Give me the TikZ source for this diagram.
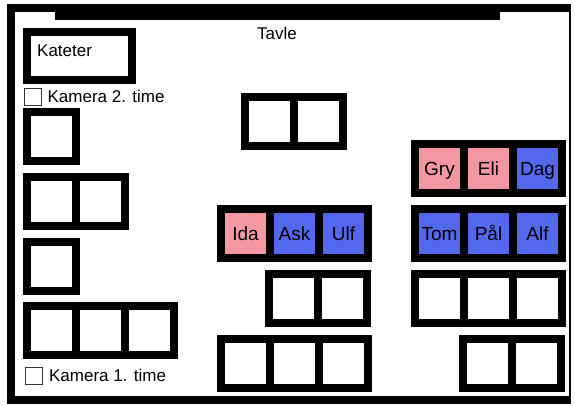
\documentclass[tikz,border=0pt]{standalone}
\usepackage{fontspec}
\setmainfont{Liberation Sans}
\usetikzlibrary{positioning}
\definecolor{girlpink}{RGB}{243,152,163}
\definecolor{boyblue}{RGB}{84,104,238}
\begin{document}
\begin{tikzpicture}[
    x=1pt, y=-1pt,
    desk/.style={draw, line width=8pt, minimum width=49pt, minimum height=49pt,
                 inner sep=0pt, outer sep=0pt, font=\fontsize{19}{22}\selectfont,
                 text height=13.6pt, text depth=0pt},
    girl/.style={desk, fill=girlpink},
    boy/.style={desk, fill=boyblue},
    checkbox/.style={draw=black!80, line width=0.9pt, minimum size=17pt, inner sep=0pt},
    camlabel/.style={inner sep=0pt, label distance=6pt, font=\fontsize{17}{20}\selectfont},
    plain/.style={inner sep=0pt, font=\fontsize{17}{20}\selectfont},
    node distance=0pt,
]
\useasboundingbox (0,0) rectangle (575,405);
\draw[line width=8pt] (570,8) -- (11,8) -- (11,400) -- (570,400);
\draw[line width=2pt] (570,4) -- (570,404);
\fill (55,4) rectangle (500,20);
\node[plain] (tavle) at (277,33.5) {Tavle};
\node[draw, line width=8pt, minimum width=105pt, minimum height=48pt] (kateter) at (79.5,56) {};
\node[plain, anchor=west] (katetertext) at (37,51) {Kateter};
\node[checkbox, label={[camlabel]right:Kamera 2. time}] (cam2) at (32.5,96.5) {};
\node[checkbox, label={[camlabel]right:Kamera 1. time}] (cam1) at (34,375.5) {};
% left wall
\node[desk] (la) at (51.5,136.5) {};
\node[desk] (lb1) at (51.5,201.5) {};
\node[desk, right=of lb1] (lb2) {};
\node[desk] (lc) at (51.5,266.5) {};
\node[desk] (ld1) at (51.5,330.5) {};
\node[desk, right=of ld1] (ld2) {};
\node[desk, right=of ld2] (ld3) {};
% middle
\node[desk] (ma1) at (269.5,121.5) {};
\node[desk, right=of ma1] (ma2) {};
\node[girl] (ida) at (245.5,233.5) {Ida};
\node[boy, right=of ida] (ask) {Ask};
\node[boy, right=of ask] (ulf) {Ulf};
\node[desk] (mc1) at (293.5,298.5) {};
\node[desk, right=of mc1] (mc2) {};
\node[desk] (md1) at (245.5,363.5) {};
\node[desk, right=of md1] (md2) {};
\node[desk, right=of md2] (md3) {};
% window side
\node[girl] (gry) at (439.5,168.5) {Gry};
\node[girl, right=of gry] (eli) {Eli};
\node[boy, right=of eli] (dag) {Dag};
\node[boy] (tom) at (439.5,233.5) {Tom};
\node[boy, right=of tom] (pal) {Pål};
\node[boy, right=of pal] (alf) {Alf};
\node[desk] (re1) at (439.5,298.5) {};
\node[desk, right=of re1] (re2) {};
\node[desk, right=of re2] (re3) {};
\node[desk] (rf1) at (487.5,363.5) {};
\node[desk, right=of rf1] (rf2) {};
\end{tikzpicture}
\end{document}
